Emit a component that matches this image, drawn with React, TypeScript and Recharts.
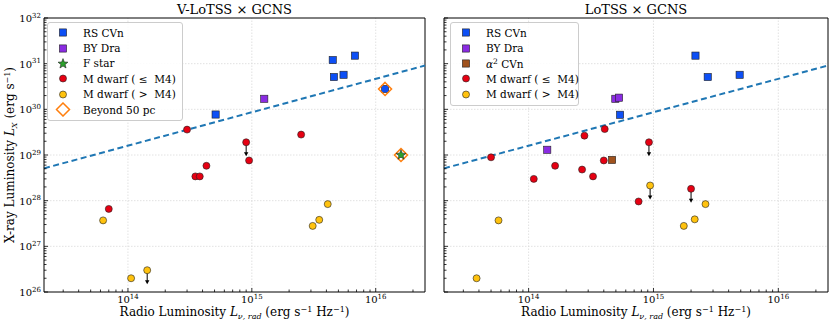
import React from "react";
import { ScatterChart, Scatter, XAxis, YAxis, ReferenceLine } from "recharts";

const FONT = "'DejaVu Serif', serif";

// axis ranges and ticks
const X_DOMAIN = [2.1e13, 2.5e16];
const Y_DOMAIN = [1e26, 1e32];
const X_DECADES = [1e13, 1e14, 1e15, 1e16];
const Y_DECADES = [1e26, 1e27, 1e28, 1e29, 1e30, 1e31];
const MINOR_MULT = [1, 2, 3, 4, 5, 6, 7, 8, 9];
const X_MAJOR = [1e14, 1e15, 1e16];
const Y_MAJOR = [1e27, 1e28, 1e29, 1e30, 1e31];

// dashed relation line, endpoints
const fitLine = [
  { x: 2.1e13, y: 5.1e28 },
  { x: 2.5e16, y: 9.1e30 },
];

// V-LoTSS x GCNS
const vRsCvn = [
  { x: 5.1e14, y: 7.7e29 },
  { x: 4.5e15, y: 1.2e31 },
  { x: 4.6e15, y: 5.1e30 },
  { x: 5.5e15, y: 5.7e30 },
  { x: 6.8e15, y: 1.5e31 },
  { x: 1.19e16, y: 2.8e30 },
];
const vByDra = [{ x: 1.26e15, y: 1.7e30 }];
const vFStar = [{ x: 1.6e16, y: 1.0e29 }];
const vMEarly = [
  { x: 3.0e14, y: 3.6e29 },
  { x: 9.0e14, y: 1.9e29, ul: true },
  { x: 9.5e14, y: 7.6e28 },
  { x: 2.5e15, y: 2.8e29 },
  { x: 4.3e14, y: 5.8e28 },
  { x: 3.5e14, y: 3.4e28 },
  { x: 3.8e14, y: 3.4e28 },
  { x: 7.0e13, y: 6.6e27 },
];
const vMLate = [
  { x: 6.3e13, y: 3.7e27 },
  { x: 1.06e14, y: 2.0e26 },
  { x: 1.43e14, y: 3.0e26, ul: true },
  { x: 3.1e15, y: 2.8e27 },
  { x: 3.5e15, y: 3.8e27 },
  { x: 4.1e15, y: 8.4e27 },
];
const vFar = [
  { x: 1.19e16, y: 2.8e30 },
  { x: 1.6e16, y: 1.0e29 },
];

// LoTSS x GCNS
const lRsCvn = [
  { x: 2.17e15, y: 1.5e31 },
  { x: 2.72e15, y: 5.1e30 },
  { x: 4.9e15, y: 5.7e30 },
  { x: 5.4e14, y: 7.6e29 },
];
const lByDra = [
  { x: 4.95e14, y: 1.7e30 },
  { x: 5.3e14, y: 1.8e30 },
  { x: 1.41e14, y: 1.3e29 },
];
const lAlpha2 = [{ x: 4.66e14, y: 7.8e28 }];
const lMEarly = [
  { x: 5.0e13, y: 8.9e28 },
  { x: 2.8e14, y: 2.65e29 },
  { x: 4.07e14, y: 3.7e29 },
  { x: 9.2e14, y: 1.9e29, ul: true },
  { x: 1.63e14, y: 5.8e28 },
  { x: 1.1e14, y: 3.0e28 },
  { x: 2.68e14, y: 4.8e28 },
  { x: 3.28e14, y: 3.4e28 },
  { x: 4.0e14, y: 7.6e28 },
  { x: 7.6e14, y: 9.6e27 },
  { x: 2.0e15, y: 1.82e28, ul: true },
];
const lMLate = [
  { x: 3.83e13, y: 2.0e26 },
  { x: 5.74e13, y: 3.7e27 },
  { x: 9.4e14, y: 2.15e28, ul: true },
  { x: 1.75e15, y: 2.8e27 },
  { x: 2.14e15, y: 3.9e27 },
  { x: 2.61e15, y: 8.4e27 },
];

const C = {
  rscvn: "#0d4ff5",
  bydra: "#8a2be2",
  fstar: "#2ca02c",
  mearly: "#e60012",
  mlate: "#ffc20e",
  alpha2: "#a0521d",
  far: "#ff7f0e",
  fit: "#1f77b4",
};

const xTicks = X_DECADES.flatMap((d) => MINOR_MULT.map((m) => m * d)).filter(
  (v) => v >= X_DOMAIN[0] && v <= X_DOMAIN[1]
);
const yTicks = [...Y_DECADES.flatMap((d) => MINOR_MULT.map((m) => m * d)), 1e32];

const isMajor = (v: number) => {
  const l = Math.log10(v);
  return Math.abs(l - Math.round(l)) < 1e-6;
};

const XTick = ({ x, y, payload }: any) => {
  const major = isMajor(payload.value);
  const e = Math.round(Math.log10(payload.value));
  return (
    <g>
      <line x1={x} x2={x} y1={y} y2={y - (major ? 4 : 2.5)} stroke="#000" strokeWidth={0.8} />
      {major && (
        <text x={x} y={y + 10.5} textAnchor="middle" fontSize={10} fontFamily={FONT} fill="#000">
          10<tspan dy={-4} fontSize={7}>{e}</tspan>
        </text>
      )}
    </g>
  );
};

const YTick = ({ x, y, payload, labels }: any) => {
  const major = isMajor(payload.value);
  const e = Math.round(Math.log10(payload.value));
  return (
    <g>
      <line x1={x} x2={x + (major ? 4 : 2.5)} y1={y} y2={y} stroke="#000" strokeWidth={0.8} />
      {major && labels && (
        <text x={x - 3} y={y + 4} textAnchor="end" fontSize={10} fontFamily={FONT} fill="#000">
          10<tspan dy={-4.5} fontSize={7}>{e}</tspan>
        </text>
      )}
    </g>
  );
};

const Arrow = ({ cx, cy }: any) => (
  <g>
    <line x1={cx} x2={cx} y1={cy} y2={cy + 11} stroke="#000" strokeWidth={1} />
    <path d={`M${cx - 2.2},${cy + 10} L${cx + 2.2},${cy + 10} L${cx},${cy + 14} Z`} fill="#000" />
  </g>
);

const square = (color: string) => (p: any) => (
  <g>
    {p.payload?.ul && <Arrow cx={p.cx} cy={p.cy} />}
    <rect x={p.cx - 3.6} y={p.cy - 3.6} width={7.2} height={7.2} fill={color} stroke="#222" strokeWidth={0.6} />
  </g>
);

const circle = (color: string) => (p: any) => (
  <g>
    {p.payload?.ul && <Arrow cx={p.cx} cy={p.cy} />}
    <circle cx={p.cx} cy={p.cy} r={3.5} fill={color} stroke="#222" strokeWidth={0.6} />
  </g>
);

const starPath = (cx: number, cy: number, ro: number, ri: number) => {
  const pts: string[] = [];
  for (let i = 0; i < 10; i++) {
    const r = i % 2 === 0 ? ro : ri;
    const a = -Math.PI / 2 + (i * Math.PI) / 5;
    pts.push(`${cx + r * Math.cos(a)},${cy + r * Math.sin(a)}`);
  }
  return `M${pts.join("L")}Z`;
};

const star = (color: string) => (p: any) => (
  <path d={starPath(p.cx, p.cy, 5.2, 2.2)} fill={color} stroke="#222" strokeWidth={0.6} />
);

const diamond = (color: string) => (p: any) => (
  <path
    d={`M${p.cx},${p.cy - 6.5} L${p.cx + 6.5},${p.cy} L${p.cx},${p.cy + 6.5} L${p.cx - 6.5},${p.cy} Z`}
    fill="none"
    stroke={color}
    strokeWidth={1.5}
  />
);

type Series = { data: any[]; shape: any; name: string };

function Panel({ width, yAxisWidth, labels, series }: { width: number; yAxisWidth: number; labels: boolean; series: Series[] }) {
  return (
    <ScatterChart width={width} height={322} margin={{ top: 18, right: width === 430 ? 5 : 2, bottom: 0, left: 0 }}>
      <XAxis
        type="number"
        dataKey="x"
        scale="log"
        domain={X_DOMAIN}
        allowDataOverflow
        ticks={xTicks}
        interval={0}
        tickSize={0}
        tickMargin={0}
        tickLine={false}
        tick={(p: any) => <XTick {...p} />}
        axisLine={{ stroke: "#000", strokeWidth: 1 }}
        height={30}
      />
      <YAxis
        type="number"
        dataKey="y"
        scale="log"
        domain={Y_DOMAIN}
        allowDataOverflow
        ticks={yTicks}
        interval={0}
        tickSize={0}
        tickMargin={0}
        tickLine={false}
        tick={(p: any) => <YTick {...p} labels={labels} />}
        axisLine={{ stroke: "#000", strokeWidth: 1 }}
        width={yAxisWidth}
      />
      {X_MAJOR.map((v) => (
        <ReferenceLine key={"gx" + v} x={v} stroke="#dadada" strokeWidth={0.8} strokeDasharray="1.5 1.5" />
      ))}
      {Y_MAJOR.map((v) => (
        <ReferenceLine key={"gy" + v} y={v} stroke="#dadada" strokeWidth={0.8} strokeDasharray="1.5 1.5" />
      ))}
      <ReferenceLine x={X_DOMAIN[1]} stroke="#000" strokeWidth={1} />
      <ReferenceLine y={Y_DOMAIN[1]} stroke="#000" strokeWidth={1} />
      <ReferenceLine
        segment={fitLine}
        stroke={C.fit}
        strokeWidth={2}
        strokeDasharray="6 3.5"
        ifOverflow="visible"
      />
      {series.map((s) => (
        <Scatter key={s.name} name={s.name} data={s.data} shape={s.shape} isAnimationActive={false} />
      ))}
    </ScatterChart>
  );
}

const LegendMark = ({ kind, color }: { kind: string; color: string }) => (
  <svg width={16} height={15} style={{ display: "block" }}>
    {kind === "square" && <rect x={4.4} y={3.9} width={7.2} height={7.2} fill={color} stroke="#222" strokeWidth={0.6} />}
    {kind === "circle" && <circle cx={8} cy={7.5} r={3.5} fill={color} stroke="#222" strokeWidth={0.6} />}
    {kind === "star" && <path d={starPath(8, 7.8, 5.2, 2.2)} fill={color} stroke="#222" strokeWidth={0.6} />}
    {kind === "diamond" && <path d="M8,1 L14.5,7.5 L8,14 L1.5,7.5 Z" fill="none" stroke={color} strokeWidth={1.5} />}
  </svg>
);

function LegendBox({ left, top, width, items }: { left: number; top: number; width: number; items: { kind: string; color: string; label: React.ReactNode }[] }) {
  return (
    <div
      style={{
        position: "absolute",
        left,
        top,
        width,
        padding: "2px 0 3px 0",
        background: "rgba(255,255,255,0.85)",
        border: "1px solid #cccccc",
        borderRadius: 3,
        fontFamily: FONT,
        fontSize: 10.5,
        color: "#000",
        boxSizing: "border-box",
      }}
    >
      {items.map((it, i) => (
        <div key={i} style={{ display: "flex", alignItems: "center", height: 15.4 }}>
          <div style={{ width: 16, marginLeft: 7 }}>
            <LegendMark kind={it.kind} color={it.color} />
          </div>
          <div style={{ marginLeft: 12, whiteSpace: "pre" }}>{it.label}</div>
        </div>
      ))}
    </div>
  );
}

export default function App() {
  const left: Series[] = [
    { name: "RS CVn", data: vRsCvn, shape: square(C.rscvn) },
    { name: "BY Dra", data: vByDra, shape: square(C.bydra) },
    { name: "M early", data: vMEarly, shape: circle(C.mearly) },
    { name: "M late", data: vMLate, shape: circle(C.mlate) },
    { name: "Beyond", data: vFar, shape: diamond(C.far) },
    { name: "F star", data: vFStar, shape: star(C.fstar) },
  ];
  const right: Series[] = [
    { name: "RS CVn", data: lRsCvn, shape: square(C.rscvn) },
    { name: "BY Dra", data: lByDra, shape: square(C.bydra) },
    { name: "alpha2", data: lAlpha2, shape: square(C.alpha2) },
    { name: "M early", data: lMEarly, shape: circle(C.mearly) },
    { name: "M late", data: lMLate, shape: circle(C.mlate) },
  ];
  const xLabel = (cx: number) => (
    <text x={cx} y={316} textAnchor="middle" fontSize={12} fontFamily={FONT}>
      Radio Luminosity <tspan fontStyle="italic">L</tspan>
      <tspan dy={2.5} fontSize={8} fontStyle="italic">ν, rad</tspan>
      <tspan dy={-2.5}> (erg s</tspan>
      <tspan dy={-4.5} fontSize={8}>−1</tspan>
      <tspan dy={4.5}> Hz</tspan>
      <tspan dy={-4.5} fontSize={8}>−1</tspan>
      <tspan dy={4.5}>)</tspan>
    </text>
  );
  return (
    <div style={{ position: "absolute", left: 0, top: 0, width: 830, height: 322, background: "#fff" }}>
      <div style={{ position: "absolute", left: 0, top: 0 }}>
        <Panel width={430} yAxisWidth={44} labels={true} series={left} />
      </div>
      <div style={{ position: "absolute", left: 430, top: 0 }}>
        <Panel width={400} yAxisWidth={14} labels={false} series={right} />
      </div>
      <svg width={830} height={322} style={{ position: "absolute", left: 0, top: 0, pointerEvents: "none" }}>
        <text x={234.5} y={14} textAnchor="middle" fontSize={13} fontFamily={FONT}>V-LoTSS × GCNS</text>
        <text x={636} y={14} textAnchor="middle" fontSize={13} fontFamily={FONT}>LoTSS × GCNS</text>
        {xLabel(234.5)}
        {xLabel(636)}
        <text transform="translate(14,155) rotate(-90)" textAnchor="middle" fontSize={12} fontFamily={FONT}>
          X-ray Luminosity <tspan fontStyle="italic">L</tspan>
          <tspan dy={2.5} fontSize={8} fontStyle="italic">X</tspan>
          <tspan dy={-2.5}> (erg s</tspan>
          <tspan dy={-4.5} fontSize={8}>−1</tspan>
          <tspan dy={4.5}>)</tspan>
        </text>
      </svg>
      <LegendBox
        left={47}
        top={22}
        width={136}
        items={[
          { kind: "square", color: C.rscvn, label: "RS CVn" },
          { kind: "square", color: C.bydra, label: "BY Dra" },
          { kind: "star", color: C.fstar, label: "F star" },
          { kind: "circle", color: C.mearly, label: "M dwarf ( ≤  M4)" },
          { kind: "circle", color: C.mlate, label: "M dwarf ( >  M4)" },
          { kind: "diamond", color: C.far, label: "Beyond 50 pc" },
        ]}
      />
      <LegendBox
        left={450}
        top={22}
        width={129}
        items={[
          { kind: "square", color: C.rscvn, label: "RS CVn" },
          { kind: "square", color: C.bydra, label: "BY Dra" },
          {
            kind: "square",
            color: C.alpha2,
            label: (
              <span>
                <i>α</i>
                <sup style={{ fontSize: 7.5 }}>2</sup> CVn
              </span>
            ),
          },
          { kind: "circle", color: C.mearly, label: "M dwarf ( ≤  M4)" },
          { kind: "circle", color: C.mlate, label: "M dwarf ( >  M4)" },
        ]}
      />
    </div>
  );
}
